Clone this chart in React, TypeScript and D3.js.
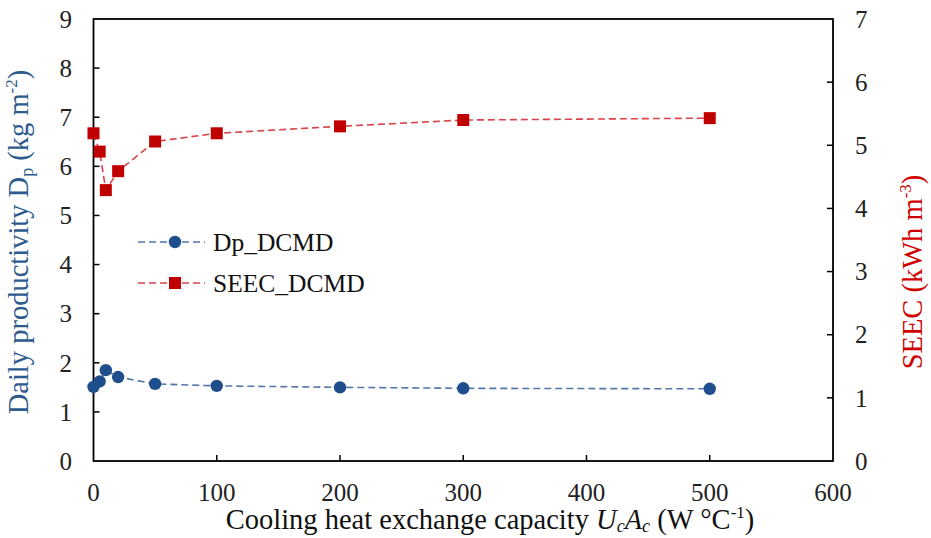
import React from "react";
import * as d3 from "d3";

const xValues = [0, 5, 10, 20, 50, 100, 200, 300, 500];
const dpValues = [1.51, 1.62, 1.85, 1.71, 1.57, 1.53, 1.5, 1.48, 1.47];
const seecValues = [5.19, 4.9, 4.29, 4.59, 5.06, 5.19, 5.3, 5.4, 5.43];
const xTicks = [0, 100, 200, 300, 400, 500, 600];
const yLeftTicks = [0, 1, 2, 3, 4, 5, 6, 7, 8, 9];
const yRightTicks = [0, 1, 2, 3, 4, 5, 6, 7];
const legendLabels = ["Dp_DCMD", "SEEC_DCMD"];

const W = 931;
const H = 538;
const L = 93.5;
const R = 833;
const T = 19;
const B = 461;

const BLUE = "#1F4E8C";
const BLUE_LINE = "#5277AA";
const RED = "#C00000";
const RED_LINE = "#D9434B";
const FONT = "'Times New Roman', 'Liberation Serif', 'DejaVu Serif', serif";
const TICK_COLOR = "#222";
const TICK_FS = 25;
const TITLE_FS = 28.5;

export default function App() {
  const x = d3.scaleLinear().domain([0, 600]).range([L, R]);
  const yL = d3.scaleLinear().domain([0, 9]).range([B, T]);
  const yR = d3.scaleLinear().domain([0, 7]).range([B, T]);

  const dpLine = d3
    .line<number>()
    .x((_, i) => x(xValues[i]))
    .y((d) => yL(d));
  const seecLine = d3
    .line<number>()
    .x((_, i) => x(xValues[i]))
    .y((d) => yR(d));

  const sq = 12;
  const cr = 6.2;
  const tickLen = 6;

  return (
    <svg
      width={W}
      height={H}
      style={{ position: "absolute", left: 0, top: 0, background: "#fff", fontFamily: FONT }}
    >
      <rect x={0} y={0} width={W} height={H} fill="#fff" />
      <rect x={L} y={T} width={R - L} height={B - T} fill="none" stroke="#000" strokeWidth={1.8} />

      {yLeftTicks.map((t) => (
        <g key={"yl" + t}>
          {t > 0 && t < 9 && (
            <line x1={L} x2={L + tickLen} y1={yL(t)} y2={yL(t)} stroke="#000" strokeWidth={1.5} />
          )}
          <text x={72} y={yL(t)} dy="0.35em" textAnchor="end" fontSize={TICK_FS} fill={TICK_COLOR}>
            {t}
          </text>
        </g>
      ))}

      {yRightTicks.map((t) => (
        <g key={"yr" + t}>
          {t > 0 && t < 7 && (
            <line x1={R} x2={R - tickLen} y1={yR(t)} y2={yR(t)} stroke="#000" strokeWidth={1.5} />
          )}
          <text x={855} y={yR(t)} dy="0.35em" textAnchor="start" fontSize={TICK_FS} fill={TICK_COLOR}>
            {t}
          </text>
        </g>
      ))}

      {xTicks.map((t) => (
        <g key={"x" + t}>
          {t > 0 && t < 600 && (
            <line x1={x(t)} x2={x(t)} y1={B} y2={B - tickLen} stroke="#000" strokeWidth={1.5} />
          )}
          <text x={x(t)} y={501} textAnchor="middle" fontSize={TICK_FS} fill={TICK_COLOR}>
            {t}
          </text>
        </g>
      ))}

      <path d={dpLine(dpValues) || ""} fill="none" stroke={BLUE_LINE} strokeWidth={1.6} strokeDasharray="7,4" />
      <path d={seecLine(seecValues) || ""} fill="none" stroke={RED_LINE} strokeWidth={1.6} strokeDasharray="7,4" />

      {dpValues.map((v, i) => (
        <circle key={"c" + i} cx={x(xValues[i])} cy={yL(v)} r={cr} fill={BLUE} />
      ))}
      {seecValues.map((v, i) => (
        <rect
          key={"s" + i}
          x={x(xValues[i]) - sq / 2}
          y={yR(v) - sq / 2}
          width={sq}
          height={sq}
          fill={RED}
        />
      ))}

      <g>
        <line x1={138} x2={205} y1={242} y2={242} stroke={BLUE_LINE} strokeWidth={1.6} strokeDasharray="7,4" />
        <circle cx={175} cy={242} r={cr} fill={BLUE} />
        <text x={213} y={242} dy="0.35em" fontSize={25.5} fill="#111">
          {legendLabels[0]}
        </text>
        <line x1={138} x2={205} y1={283} y2={283} stroke={RED_LINE} strokeWidth={1.6} strokeDasharray="7,4" />
        <rect x={175 - sq / 2} y={283 - sq / 2} width={sq} height={sq} fill={RED} />
        <text x={213} y={283} dy="0.35em" fontSize={25.5} fill="#111">
          {legendLabels[1]}
        </text>
      </g>

      <text
        transform={`translate(28, 242) rotate(-90)`}
        textAnchor="middle"
        fontSize={TITLE_FS}
        fill="#2E5B8E"
      >
        Daily productivity D
        <tspan fontSize={18} dy={5}>p</tspan>
        <tspan dy={-5}> (kg m</tspan>
        <tspan fontSize={17} dy={-11}>-2</tspan>
        <tspan dy={11}>)</tspan>
      </text>

      <text
        transform={`translate(922, 272) rotate(-90)`}
        textAnchor="middle"
        fontSize={TITLE_FS}
        fill="#D00000"
      >
        SEEC (kWh m
        <tspan fontSize={17} dy={-11}>-3</tspan>
        <tspan dy={11}>)</tspan>
      </text>

      <text x={490} y={529} textAnchor="middle" fontSize={TITLE_FS} fill="#111">
        Cooling heat exchange capacity{" "}
        <tspan fontStyle="italic">U</tspan>
        <tspan fontStyle="italic" fontSize={18} dy={3}>c</tspan>
        <tspan fontStyle="italic" dy={-3}>A</tspan>
        <tspan fontStyle="italic" fontSize={18} dy={3}>c</tspan>
        <tspan dy={-3}> (W °C</tspan>
        <tspan fontSize={17} dy={-11}>-1</tspan>
        <tspan dy={11}>)</tspan>
      </text>
    </svg>
  );
}
